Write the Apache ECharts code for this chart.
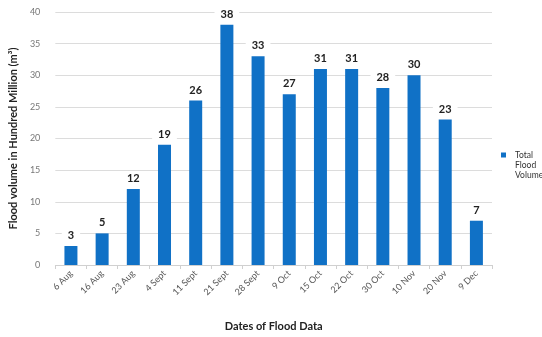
<!DOCTYPE html>
<html>
<head>
<meta charset="utf-8">
<script src="https://cdn.jsdelivr.net/npm/echarts@6/dist/echarts.min.js"></script>
<style>
html, body { margin: 0; padding: 0; background: #fff; }
#chart { width: 542px; height: 337px; }
</style>
</head>
<body>
<div id="chart"></div>
<script>
// Flood survey dates and total flood volume (hundred million m³)
const dates = ['6 Aug', '16 Aug', '23 Aug', '4 Sept', '11 Sept', '21 Sept', '28 Sept',
  '9 Oct', '15 Oct', '22 Oct', '30 Oct', '10 Nov', '20 Nov', '9 Dec'];
const floodVolume = [3, 5, 12, 19, 26, 38, 33, 27, 31, 31, 28, 30, 23, 7];
const yTicks = { min: 0, max: 40, interval: 5 };

const font = 'Lato, "Liberation Sans", sans-serif';
const chart = echarts.init(document.getElementById('chart'), null, { renderer: 'canvas' });

chart.setOption({
  animation: false,
  textStyle: { fontFamily: font },
  grid: { left: 49, right: 50, top: 12, bottom: 64, containLabel: false },
  legend: {
    left: 496,
    top: 125,
    orient: 'vertical',
    itemWidth: 5,
    itemHeight: 5,
    itemGap: 4,
    icon: 'rect',
    // two leading blank lines keep the swatch level with the first word
    formatter: () => '\n\nTotal\nFlood\nVolume',
    textStyle: { fontSize: 8.5, color: '#333', lineHeight: 10, padding: [0, 0, 0, 4], fontFamily: font },
    data: ['Total Flood Volume']
  },
  xAxis: {
    type: 'category',
    data: dates,
    name: 'Dates of Flood Data',
    nameLocation: 'middle',
    nameGap: 56,
    nameTextStyle: { fontSize: 11, fontWeight: 'bold', color: '#222', fontFamily: font },
    axisLine: { lineStyle: { color: '#d0d0d0' } },
    axisTick: { show: true, length: 4, lineStyle: { color: '#d0d0d0' } },
    axisLabel: { rotate: 45, fontSize: 9, color: '#555', margin: 7, interval: 0, fontFamily: font }
  },
  yAxis: {
    type: 'value',
    min: yTicks.min,
    max: yTicks.max,
    interval: yTicks.interval,
    name: 'Flood volume in Hundred Million (m³)',
    nameLocation: 'middle',
    nameGap: 31,
    nameTextStyle: { fontSize: 11, fontWeight: 'bold', color: '#222', fontFamily: font },
    axisLine: { show: false },
    axisTick: { show: false },
    axisLabel: { fontSize: 9, color: '#777', margin: 15, fontFamily: font },
    splitLine: { lineStyle: { color: '#dcdcdc' } }
  },
  series: [{
    name: 'Total Flood Volume',
    type: 'bar',
    data: floodVolume,
    barWidth: 13,
    itemStyle: { color: '#1071c6' },
    label: {
      show: true,
      position: 'top',
      distance: 4,
      fontSize: 11,
      fontWeight: 'bold',
      color: '#222',
      backgroundColor: '#fff',
      padding: [1, 6, 1, 6],
      fontFamily: font
    }
  }]
});
</script>
</body>
</html>
